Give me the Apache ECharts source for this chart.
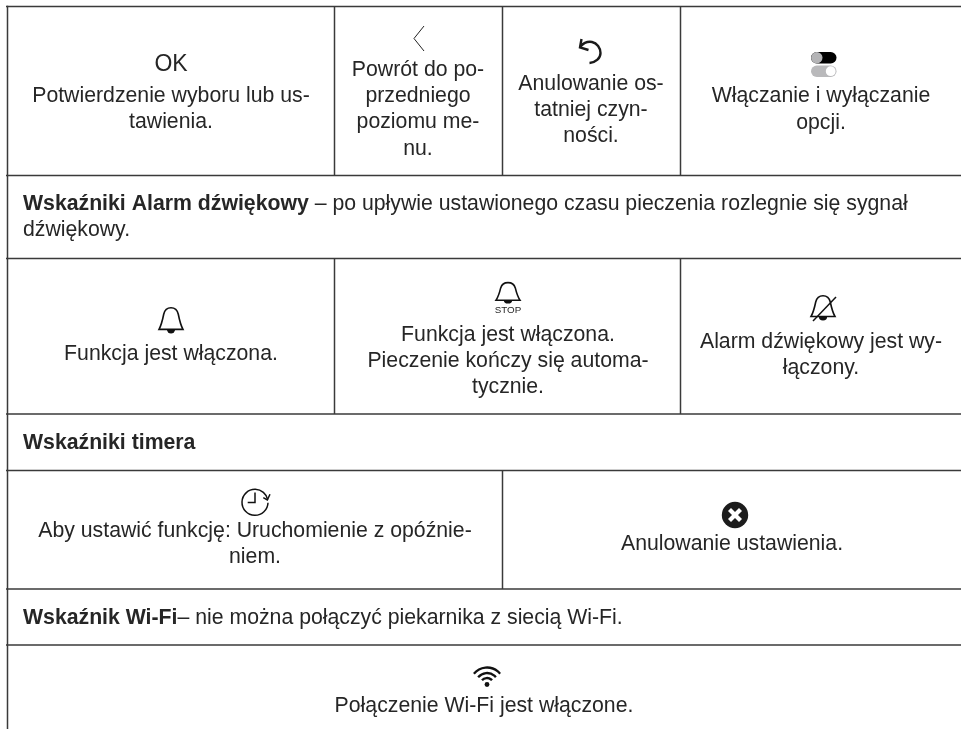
<!DOCTYPE html>
<html><head><meta charset="utf-8">
<style>html,body{margin:0;padding:0;background:#fff;overflow:hidden}#c{width:961px;height:729px}</style>
<script src="https://cdn.jsdelivr.net/npm/echarts@6/dist/echarts.min.js"></script>
</head><body><div id="c"></div>
<script>
// --- table contents ---
const okLabel = "OK";
const confirmText = ["Potwierdzenie wyboru lub us-","tawienia."];
const backText = ["Powrót do po-","przedniego","poziomu me-","nu."];
const undoText = ["Anulowanie os-","tatniej czyn-","ności."];
const toggleText = ["Włączanie i wyłączanie","opcji."];
const alarmHeadBold = "Wskaźniki Alarm dźwiękowy";
const alarmHeadRest = [" – po upływie ustawionego czasu pieczenia rozlegnie się sygnał","dźwiękowy."];
const bellOnText = ["Funkcja jest włączona."];
const bellStopText = ["Funkcja jest włączona.","Pieczenie kończy się automa-","tycznie."];
const stopLabel = "STOP";
const bellOffText = ["Alarm dźwiękowy jest wy-","łączony."];
const timerHead = "Wskaźniki timera";
const delayText = ["Aby ustawić funkcję: Uruchomienie z opóźnie-","niem."];
const cancelText = ["Anulowanie ustawienia."];
const wifiHeadBold = "Wskaźnik Wi-Fi";
const wifiHeadRest = "– nie można połączyć piekarnika z siecią Wi-Fi.";
const wifiText = ["Połączenie Wi-Fi jest włączone."];

const FONT = '"Liberation Sans", Arial, sans-serif';
const INK = '#262626', LINE = '#3a3a3a';
const SIZE = 21.25, LH = 26.4, DY = 0.8;
const g = [];
const measure = document.createElement('canvas').getContext('2d');
let pathId = 0;

function line(x1,y1,x2,y2,w,c){g.push({type:'line',shape:{x1,y1,x2,y2},style:{stroke:c||LINE,lineWidth:w||1.5,lineCap:'butt'}});}
function txt(s,x,y,o){o=o||{};g.push({type:'text',x:x,y:y+DY,style:{text:s,fill:o.fill||INK,font:(o.weight||'normal')+' '+(o.size||SIZE)+'px '+FONT,align:o.align||'center',verticalAlign:'middle'}});}
function block(arr,x,y){arr.forEach((s,i)=>txt(s,x,y+i*LH));}
function path(d,style){
  const name='iconPath'+(pathId++);
  echarts.graphic.registerShape(name,echarts.graphic.extendPath(d,{}));
  g.push({type:name,style:style});
}
function headWithBold(b,r,x,y){
  txt(b,x,y,{weight:'bold',align:'left'});
  measure.font='bold '+SIZE+'px '+FONT;
  const w=measure.measureText(b).width;
  txt(r,x+w,y,{align:'left'});
}
function bell(cx,top,w,h,stroke){
  const s=w/24, l=cx-w/2;
  const X=v=>(l+v*s).toFixed(2), Y=v=>(top+v*(h/26)).toFixed(2);
  path(`M${X(0.5)} ${Y(21.5)}L${X(23.5)} ${Y(21.5)}C${X(21)} ${Y(17)} ${X(20)} ${Y(12)} ${X(19)} ${Y(7)}C${X(18)} ${Y(2.5)} ${X(15.5)} ${Y(0.7)} ${X(12)} ${Y(0.7)}C${X(8.5)} ${Y(0.7)} ${X(6)} ${Y(2.5)} ${X(5)} ${Y(7)}C${X(4)} ${Y(12)} ${X(3)} ${Y(17)} ${X(0.5)} ${Y(21.5)}Z`,{fill:'none',stroke:'#111',lineWidth:stroke||1.6});
  path(`M${X(8)} ${Y(21.5)}A${(4*s).toFixed(2)} ${(4*h/26).toFixed(2)} 0 0 0 ${X(16)} ${Y(21.5)}Z`,{fill:'#111',stroke:'none'});
}

// --- grid lines ---
[6.5,175.5,258.5,414,470.5,589,645].forEach(y=>line(6,y,961,y));
line(7.5,5.8,7.5,729);
[[334.5,6,175],[502.5,6,175],[680.5,6,175],[334.5,258,414],[680.5,258,414],[502.5,470,589]].forEach(v=>line(v[0],v[1],v[0],v[2]));

// --- row 1 ---
txt(okLabel,171,64,{size:23});
block(confirmText,171,95);
g.push({type:'polyline',shape:{points:[[424,26],[414,38.5],[424,51]]},style:{fill:'none',stroke:'#222',lineWidth:1}});
block(backText,418,69);
block(undoText,591,83);
block(toggleText,821,95.5);
// undo arrow
path('M580.5 46.5C584 42.5 589 41.5 592 42C597 43 600.5 48 600.5 53C600.5 58 596 62.5 589.5 63',{fill:'none',stroke:'#1a1a1a',lineWidth:2.4});
path('M581.5 39L580 47.5L588.5 50',{fill:'none',stroke:'#1a1a1a',lineWidth:2.4});
// toggle
g.push({type:'rect',shape:{x:811,y:52,width:25.5,height:11.5,r:5.75},style:{fill:'#000'}});
g.push({type:'circle',shape:{cx:816.8,cy:57.8,r:5.7},style:{fill:'#b4b4b6'}});
g.push({type:'rect',shape:{x:811,y:65.5,width:25.5,height:11.5,r:5.75},style:{fill:'#b9b9bb'}});
g.push({type:'circle',shape:{cx:830.7,cy:71.2,r:4.9},style:{fill:'#fff'}});

// --- row 2 ---
headWithBold(alarmHeadBold,alarmHeadRest[0],23,203);
txt(alarmHeadRest[1],23,229.5,{align:'left'});

// --- row 3 ---
bell(171,307,25,27);
block(bellOnText,171,353);
bell(508,282,25,22);
txt(stopLabel,508,309.5,{size:9.8});
block(bellStopText,508,334);
bell(823,295,25,26);
line(813,321,836,297,1.5,'#111');
block(bellOffText,821,341);

// --- row 4 ---
txt(timerHead,23,442,{weight:'bold',align:'left'});

// --- row 5 ---
g.push({type:'arc',shape:{cx:255,cy:502.3,r:13,startAngle:0.03,endAngle:6.08,clockwise:true},style:{fill:'none',stroke:'#111',lineWidth:1.5}});
g.push({type:'polyline',shape:{points:[[255,492.5],[255,502.5],[247.7,502.5]]},style:{fill:'none',stroke:'#111',lineWidth:1.5}});
path('M263.3 497.7L267.3 500L270 494.3',{fill:'none',stroke:'#111',lineWidth:1.5});
block(delayText,255,530);
g.push({type:'circle',shape:{cx:735,cy:515,r:13.2},style:{fill:'#1c1c1c'}});
g.push({type:'line',shape:{x1:729.5,y1:509.5,x2:740.5,y2:520.5},style:{stroke:'#fff',lineWidth:4.2,lineCap:'butt'}});
g.push({type:'line',shape:{x1:740.5,y1:509.5,x2:729.5,y2:520.5},style:{stroke:'#fff',lineWidth:4.2,lineCap:'butt'}});
block(cancelText,732,543);

// --- row 6 ---
headWithBold(wifiHeadBold,wifiHeadRest,23,617.5);

// --- row 7 ---
[17,11.5,6.5].forEach(r=>{
  g.push({type:'arc',shape:{cx:487,cy:684.5,r:r,startAngle:-Math.PI*0.78,endAngle:-Math.PI*0.22,clockwise:true},style:{fill:'none',stroke:'#111',lineWidth:2.3}});
});
g.push({type:'circle',shape:{cx:487,cy:684.5,r:2.4},style:{fill:'#111'}});
block(wifiText,484,705);

const chart = echarts.init(document.getElementById('c'),null,{renderer:'canvas'});
chart.setOption({animation:false,backgroundColor:'#fff',graphic:{elements:g}});
</script>
</body></html>
